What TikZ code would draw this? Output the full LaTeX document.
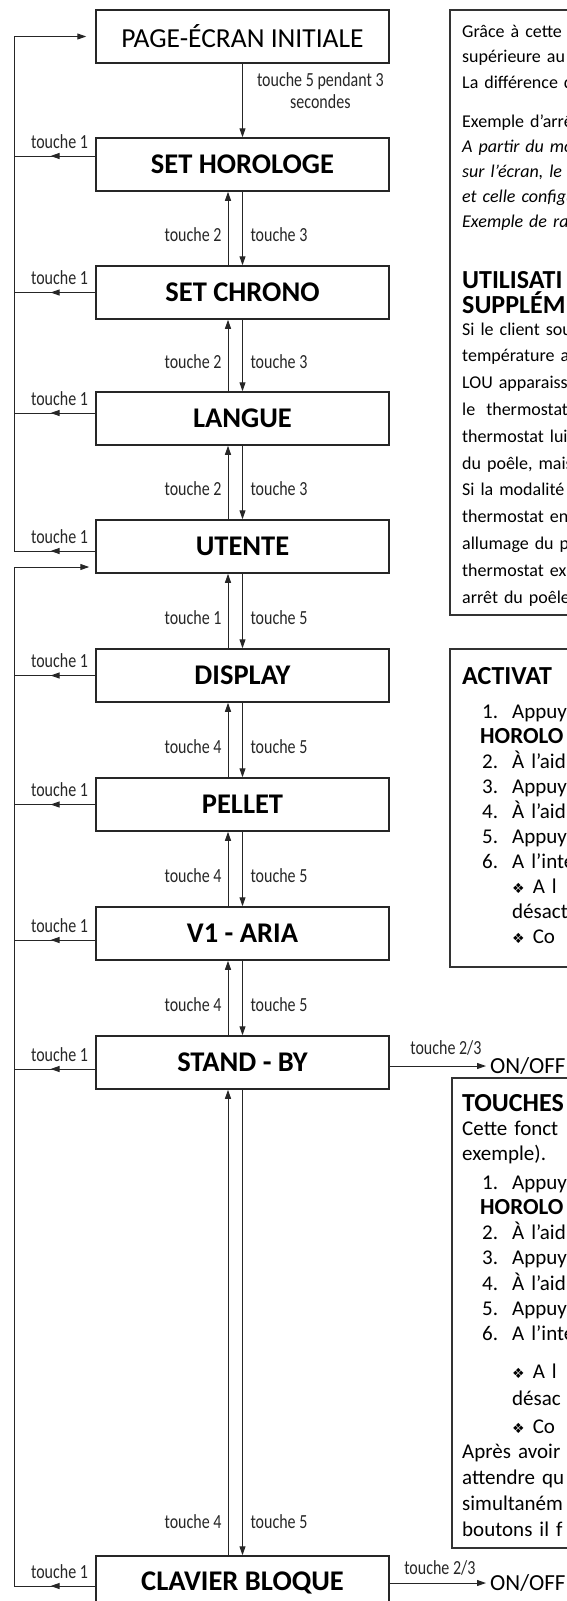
\documentclass[tikz,border=0pt]{standalone}
\usepackage{fontspec}
\setmainfont{Carlito}
\newfontfamily\symfont{DejaVu Sans}
\newfontfamily\condfont[FakeStretch=0.8]{Carlito}
\usepackage{tikz}
\usetikzlibrary{arrows.meta,positioning,decorations.markings}

\newcommand\boxfont{\bfseries\fontsize{28.5}{30}\selectfont}
\newcommand\lblfont{\condfont\fontsize{20}{22}\selectfont}
\newcommand\lstfont{\fontsize{21}{25.1}\selectfont}
\newcommand\hdfont{\bfseries\fontsize{26}{25}\selectfont}
\newcommand\diam{{\symfont\fontsize{14}{14}\selectfont ❖}}

\begin{document}
\begin{tikzpicture}[x=1pt, y=-1pt,
      etat/.style = {rectangle, draw=black!85, line width=1.5pt,
          minimum width=293pt, minimum height=53pt, inner sep=0pt, font=\boxfont},
      lbl/.style  = {inner sep=0pt, font=\lblfont},
      fl/.style   = {-{Triangle[length=9pt,width=6pt]}, line width=1pt, black!85},
      ret/.style  = {line width=1pt, black!85, postaction={decorate},
          decoration={markings, mark=at position 0.55 with
          {\arrow{Triangle[length=9pt,width=6pt]}}}},
      pnl/.style  = {draw=black!80, line width=1.2pt},
      txt/.style  = {anchor=base west, inner sep=0pt, text width=200pt,
          align=left, font=\fontsize{18}{25.5}\selectfont},
      onoff/.style = {inner sep=0pt, anchor=west, font=\fontsize{23}{25}\selectfont},
    ]
    \useasboundingbox (0,0) rectangle (567,1601);
    \clip (0,0) rectangle (567,1601);

    % ── Écrans ───────────────────────────────────────────────────
    \node[etat, font=\fontsize{27.5}{30}\selectfont] (init) at (242.5,36.5) {PAGE-ÉCRAN INITIALE};
    \node[etat] (horl)   at (242.5,164.5)  {SET HOROLOGE};
    \node[etat] (chrono) at (242.5,292.5)  {SET CHRONO};
    \node[etat] (langue) at (242.5,418.5)  {LANGUE};
    \node[etat] (utente) at (242.5,546.5)  {UTENTE};
    \node[etat] (disp)   at (242.5,675.5)  {DISPLAY};
    \node[etat] (pellet) at (242.5,804.5)  {PELLET};
    \node[etat] (aria)   at (242.5,933.5)  {V1 - ARIA};
    \node[etat] (stby)   at (242.5,1062.5) {STAND - BY};
    \node[etat] (clav)   at (242.5,1582.5) {CLAVIER BLOQUE};

    % ── Passages entre écrans ────────────────────────────────────
    \draw[fl] (init.south) -- node[lbl, right=14pt, pos=0.37, align=center] (l0)
        {touche 5 pendant 3\\secondes} (horl.north);
    \draw[fl] ([xshift=-14.5pt]chrono.north) -- node[lbl, left=6pt, pos=0.41] (l1a) {touche 2} ([xshift=-14.5pt]horl.south);
    \draw[fl] (horl.south) -- node[lbl, right=7.5pt, pos=0.59] (l1b) {touche 3} (chrono.north);
    \draw[fl] ([xshift=-14.5pt]langue.north) -- node[lbl, left=6pt, pos=0.41] (l2a) {touche 2} ([xshift=-14.5pt]chrono.south);
    \draw[fl] (chrono.south) -- node[lbl, right=7.5pt, pos=0.59] (l2b) {touche 3} (langue.north);
    \draw[fl] ([xshift=-14.5pt]utente.north) -- node[lbl, left=6pt, pos=0.41] (l3a) {touche 2} ([xshift=-14.5pt]langue.south);
    \draw[fl] (langue.south) -- node[lbl, right=7.5pt, pos=0.59] (l3b) {touche 3} (utente.north);
    \draw[fl] ([xshift=-14.5pt]disp.north) -- node[lbl, left=6pt, pos=0.41] (l4a) {touche 1} ([xshift=-14.5pt]utente.south);
    \draw[fl] (utente.south) -- node[lbl, right=7.5pt, pos=0.59] (l4b) {touche 5} (disp.north);
    \draw[fl] ([xshift=-14.5pt]pellet.north) -- node[lbl, left=6pt, pos=0.41] (l5a) {touche 4} ([xshift=-14.5pt]disp.south);
    \draw[fl] (disp.south) -- node[lbl, right=7.5pt, pos=0.59] (l5b) {touche 5} (pellet.north);
    \draw[fl] ([xshift=-14.5pt]aria.north) -- node[lbl, left=6pt, pos=0.41] (l6a) {touche 4} ([xshift=-14.5pt]pellet.south);
    \draw[fl] (pellet.south) -- node[lbl, right=7.5pt, pos=0.59] (l6b) {touche 5} (aria.north);
    \draw[fl] ([xshift=-14.5pt]stby.north) -- node[lbl, left=6pt, pos=0.41] (l7a) {touche 4} ([xshift=-14.5pt]aria.south);
    \draw[fl] (aria.south) -- node[lbl, right=7.5pt, pos=0.59] (l7b) {touche 5} (stby.north);
    \draw[fl] ([xshift=-14.5pt]clav.north) -- node[lbl, left=6pt, pos=0.073] (l8a) {touche 4} ([xshift=-14.5pt]stby.south);
    \draw[fl] (stby.south) -- node[lbl, right=7.5pt, pos=0.927] (l8b) {touche 5} (clav.north);

    % ── Retours touche 1 ─────────────────────────────────────────
    \coordinate (topL) at (14,36.5);
    \coordinate (hOut) at ([yshift=8.5pt]horl.west);
    \coordinate (gOut) at ([yshift=5.5pt]langue.west);
    \coordinate (uOut) at ([yshift=-4.5pt]utente.west);
    \coordinate (uIn)  at ([yshift=-20.5pt]utente.west);
    \coordinate (aOut) at ([yshift=-6.5pt]aria.west);
    \coordinate (sOut) at ([yshift=-6.5pt]stby.west);
    \coordinate (kOut) at ([yshift=-3.5pt]clav.west);
    \draw[ret] (hOut) -- node[lbl, above=7pt, pos=0.44] (r1) {touche 1} (hOut -| topL);
    \draw[ret] (chrono.west) -- node[lbl, above=7pt, pos=0.44] (r2) {touche 1} (chrono.west -| topL);
    \draw[ret] (gOut) -- node[lbl, above=7pt, pos=0.44] (r3) {touche 1} (gOut -| topL);
    \draw[ret] (uOut) -- node[lbl, above=7pt, pos=0.44] (r4) {touche 1} (uOut -| topL);
    \draw[ret] (disp.west) -- node[lbl, above=7pt, pos=0.44] (r5) {touche 1} (disp.west -| topL);
    \draw[ret] (pellet.west) -- node[lbl, above=7pt, pos=0.44] (r6) {touche 1} (pellet.west -| topL);
    \draw[ret] (aOut) -- node[lbl, above=7pt, pos=0.44] (r7) {touche 1} (aOut -| topL);
    \draw[ret] (sOut) -- node[lbl, above=7pt, pos=0.44] (r8) {touche 1} (sOut -| topL);
    \draw[ret] (kOut) -- node[lbl, above=7pt, pos=0.44] (r9) {touche 1} (kOut -| topL);
    \draw[fl, shorten >=9pt] (uOut -| topL) -- (topL) -- (init.west);
    \draw[fl, shorten >=6pt] (kOut -| topL) -- (uIn -| topL) -- (uIn);

    % ── Marche/arrêt ─────────────────────────────────────────────
    \node[onoff] (onA) at (490,1066) {ON/OFF};
    \node[onoff] (onB) at (490,1583) {ON/OFF};
    \draw[fl, shorten >=4pt] (stby.east |- onA.west) -- node[lbl, above=10pt, pos=0.56] (t23a) {touche 2/3} (onA.west);
    \draw[fl, shorten >=4pt] (clav.east |- onB.west) -- node[lbl, above=7pt, pos=0.5] (t23b) {touche 2/3} (onB.west);

    % ── Encadrés de texte (coupés au bord) ───────────────────────
    \draw[pnl] (450,10) rectangle (620,615);
    \draw[pnl] (450,649) rectangle (620,967);
    \draw[pnl] (452,1078) rectangle (620,1548);

    \node[txt] (pa1) at (462,37) {Grâce à cette s\\supérieure au r\\La différence d};
    \node[txt, font=\fontsize{18}{25}\selectfont] (pa2) at (462,127)
        {Exemple d'arrê\\\itshape A partir du mom\\sur l'écran, le po\\et celle configu\\Exemple de rall};
    \node[txt, font=\hdfont] (pa3) at (462,288) {UTILISATI\\SUPPLÉM};
    \node[txt, font=\fontsize{18}{26.8}\selectfont] (pa4) at (462,335)
        {Si le client sou\\température a\\LOU apparaiss\\le\hspace{5pt} thermostat\\thermostat lui-\\du poêle, mais\\Si la modalité S\\thermostat en\\allumage du p\\thermostat ex\\arrêt du poêle};

    \node[txt, font=\hdfont] (pb1) at (462,684) {ACTIVAT};
    \node[txt, font=\lstfont] (pb2) at (482,718)
        {\makebox[30pt][l]{1.}Appuy\\
         \hspace*{-2pt}{\bfseries\fontsize{23}{25.1}\selectfont HOROLO}\\
         \makebox[30pt][l]{2.}À l'aid\\
         \makebox[30pt][l]{3.}Appuy\\
         \makebox[30pt][l]{4.}À l'aid\\
         \makebox[30pt][l]{5.}Appuy\\
         \makebox[30pt][l]{6.}A l'inte\\
         \hspace*{30pt}\diam\hspace{8pt}A l\\
         \hspace*{30pt}désact\\
         \hspace*{30pt}\diam\hspace{8pt}Co};

    \node[txt, font=\hdfont] (pc1) at (462,1111) {TOUCHES};
    \node[txt, font=\fontsize{21}{25}\selectfont] (pc2) at (462,1135) {Cette fonct\\exemple).};
    \node[txt, font=\fontsize{21}{25.3}\selectfont] (pc3) at (482,1189)
        {\makebox[30pt][l]{1.}Appuy\\
         \hspace*{-2pt}{\bfseries\fontsize{23}{25.3}\selectfont HOROLO}\\
         \makebox[30pt][l]{2.}À l'aid\\
         \makebox[30pt][l]{3.}Appuy\\
         \makebox[30pt][l]{4.}À l'aid\\
         \makebox[30pt][l]{5.}Appuy\\
         \makebox[30pt][l]{6.}A l'inte};
    \node[txt, font=\fontsize{21}{27.5}\selectfont] (pc4) at (482,1378)
        {\hspace*{30pt}\diam\hspace{8pt}A l\\
         \hspace*{30pt}désac\\
         \hspace*{30pt}\diam\hspace{8pt}Co};
    \node[txt, font=\fontsize{21}{26}\selectfont] (pc5) at (462,1458)
        {Après avoir\\attendre qu\\simultaném\\boutons il f};

  \end{tikzpicture}
\end{document}
